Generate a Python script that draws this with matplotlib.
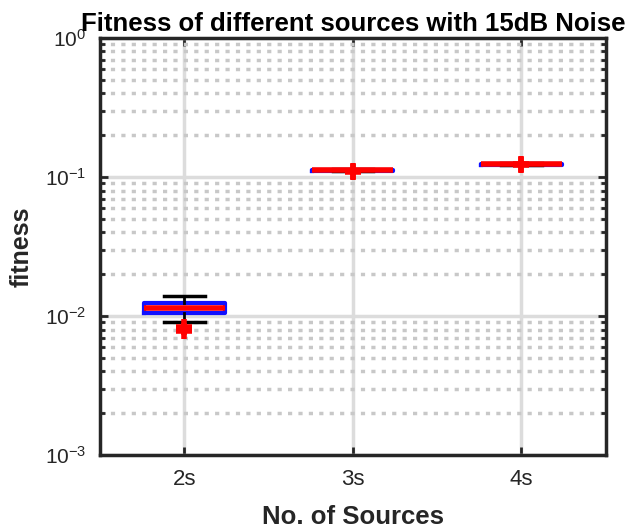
import matplotlib
matplotlib.use("Agg")
import matplotlib.pyplot as plt
import numpy as np
from matplotlib.ticker import LogLocator, NullFormatter

plt.rcParams['font.family'] = ['Liberation Sans', 'DejaVu Sans']

categories = ['2s', '3s', '4s']
whislo = [0.0091, 0.1105, 0.1215]
q1 = [0.01046, 0.1113, 0.1225]
med = [0.01142, 0.1120, 0.1233]
q3 = [0.01247, 0.1127, 0.1241]
whishi = [0.01393, 0.1140, 0.1255]
fliers = [[0.0083, 0.0078], [0.1095, 0.1110], [0.1225, 0.1245]]

stats = []
for i, c in enumerate(categories):
    stats.append(dict(label=c, whislo=whislo[i], q1=q1[i], med=med[i],
                      q3=q3[i], whishi=whishi[i], fliers=fliers[i]))

fig = plt.figure(figsize=(6.37, 5.28), dpi=100)
ax = fig.add_axes([0.157, 0.138, 0.794, 0.790])

ax.bxp(stats, positions=[1, 2, 3], widths=0.48, showfliers=True,
       boxprops=dict(color='#1010ff', linewidth=3),
       medianprops=dict(color='#ff0000', linewidth=4),
       whiskerprops=dict(color='black', linewidth=2),
       capprops=dict(color='black', linewidth=2.5),
       flierprops=dict(marker='+', markeredgecolor='#ff0000', markersize=12,
                       markeredgewidth=4, linestyle='none'),
       zorder=5)

ax.set_yscale('log')
ax.set_ylim(1e-3, 1e0)
ax.set_xlim(0.5, 3.5)
ax.set_xticks([1, 2, 3])
ax.set_xticklabels(categories)
ax.yaxis.set_major_locator(LogLocator(base=10, numticks=10))
ax.yaxis.set_minor_locator(LogLocator(base=10, subs=np.arange(2, 10), numticks=20))
ax.yaxis.set_minor_formatter(NullFormatter())

ax.grid(True, which='major', axis='both', color='#dcdcdc', linewidth=2.5, linestyle='-', zorder=0)
ax.grid(True, which='minor', axis='y', color='#c8c8c8', linewidth=2.5, linestyle=(0, (1.2, 1.8)), zorder=0)
ax.set_axisbelow(True)

for s in ax.spines.values():
    s.set_linewidth(2.5)
    s.set_color('#262626')

ax.tick_params(which='both', direction='in', top=True, right=True, colors='#262626',
               labelsize=16, width=2)
ax.tick_params(which='major', length=6, pad=10)
ax.tick_params(axis='y', which='major', pad=10, labelsize=15)
ax.tick_params(which='minor', length=3.5)
ax.tick_params(axis='x', which='minor', bottom=False, top=False)

ax.set_title('Fitness of different sources with 15dB Noise', fontsize=18.5,
             fontweight='bold', pad=5)
ax.set_xlabel('No. of Sources', fontsize=18.5, fontweight='bold', color='#262626', labelpad=11)
ax.set_ylabel('fitness', fontsize=18, fontweight='bold', color='#262626')
ax.yaxis.set_label_coords(-0.132, 0.5)

fig.savefig('out.png', dpi=100)
